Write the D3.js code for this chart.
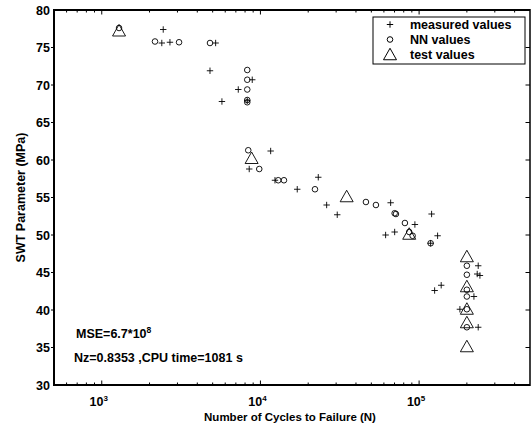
<!DOCTYPE html>
<html>
<head>
<meta charset="utf-8">
<script src="https://cdn.jsdelivr.net/npm/d3@7/dist/d3.min.js"></script>
<style>
  html, body { margin: 0; padding: 0; background: #fff; }
  svg { display: block; font-family: "Liberation Sans", Arial, Helvetica, sans-serif; }
  text { font-weight: bold; fill: #000; }
</style>
</head>
<body>
<svg id="chart" width="532" height="433"></svg>
<script>
// Measured SWT parameter vs. cycles to failure
const measuredN = [2440, 2390, 2690, 5220, 4810, 8880, 7250, 5720, 8260, 11600,
  8500, 12350, 17060, 23150, 26140, 30490, 66170, 119900, 94090, 61520,
  70140, 118200, 130800, 235800, 232400, 241700, 125300, 137800, 221600, 180800, 235800];
const measuredSWT = [77.4, 75.6, 75.7, 75.6, 71.9, 70.7, 69.4, 67.8, 67.9, 61.2,
  58.8, 57.3, 56.1, 57.7, 54.0, 52.7, 54.3, 52.8, 51.4, 50.0,
  50.4, 48.9, 49.9, 45.9, 44.8, 44.6, 42.6, 43.3, 41.8, 40.1, 37.7];

// Neural network predictions
const nnN = [1285, 2165, 3070, 4810, 8260, 8260, 8260, 8260, 8260, 8380,
  9830, 12950, 14070, 22070, 46230, 53450, 70140, 71450, 81400, 86640,
  91020, 118200, 200000, 200000, 200000, 200000, 200000, 200000];
const nnSWT = [77.6, 75.8, 75.7, 75.6, 72.0, 70.7, 69.4, 68.0, 67.7, 61.3,
  58.8, 57.3, 57.3, 56.1, 54.4, 54.0, 52.9, 52.8, 51.6, 50.4,
  49.9, 48.9, 45.9, 44.7, 42.7, 41.8, 40.1, 37.7];

// Test specimens
const testN = [1285, 8800, 34950, 86640, 200000, 200000, 200000, 200000, 200000];
const testSWT = [77.3, 60.3, 55.2, 50.2, 47.2, 43.2, 40.2, 38.4, 35.2];

const xDomain = [500, 500000];
const yDomain = [30, 80];
const xMajorTicks = [1e3, 1e4, 1e5];
const yTicks = [30, 35, 40, 45, 50, 55, 60, 65, 70, 75, 80];
const legendLabels = ["measured values", "NN values", "test values"];

const svg = d3.select("#chart");
const L = 54, R = 530, T = 10, B = 385;

const x = d3.scaleLog().domain(xDomain).range([L, R]);
const y = d3.scaleLinear().domain(yDomain).range([B, T]);

// minor ticks on the log axis
const xMinor = [];
for (let d = 100; d <= 1e5; d *= 10) {
  for (let k = 2; k <= 9; k++) {
    const v = k * d;
    if (v > xDomain[0] && v < xDomain[1] && !xMajorTicks.includes(v)) xMinor.push(v);
  }
}

const frame = svg.append("g");
// tick marks: bottom & top inward, left outward, right inward
const tickG = svg.append("g").attr("stroke", "#000").attr("stroke-width", 1);
xMinor.forEach(v => {
  tickG.append("line").attr("x1", x(v)).attr("x2", x(v)).attr("y1", B).attr("y2", B - 2.5);
  tickG.append("line").attr("x1", x(v)).attr("x2", x(v)).attr("y1", T).attr("y2", T + 2.5);
});
xMajorTicks.forEach(v => {
  tickG.append("line").attr("x1", x(v)).attr("x2", x(v)).attr("y1", B).attr("y2", B - 4.5);
  tickG.append("line").attr("x1", x(v)).attr("x2", x(v)).attr("y1", T).attr("y2", T + 4.5);
});
yTicks.forEach(v => {
  if (v === yDomain[0] || v === yDomain[1]) return;
  tickG.append("line").attr("x1", L).attr("x2", L - 3).attr("y1", y(v)).attr("y2", y(v));
  tickG.append("line").attr("x1", R).attr("x2", R - 4.5).attr("y1", y(v)).attr("y2", y(v));
});

// frame
frame.append("line").attr("x1", L).attr("x2", R).attr("y1", B).attr("y2", B).attr("stroke", "#000").attr("stroke-width", 2);
frame.append("line").attr("x1", L).attr("x2", R).attr("y1", T).attr("y2", T).attr("stroke", "#000").attr("stroke-width", 2);
frame.append("line").attr("x1", L).attr("x2", L).attr("y1", T - 1).attr("y2", B + 1).attr("stroke", "#000").attr("stroke-width", 2);
frame.append("line").attr("x1", R).attr("x2", R).attr("y1", T - 1).attr("y2", B + 1).attr("stroke", "#000").attr("stroke-width", 1.5);

// y tick labels
svg.append("g").selectAll("text").data(yTicks).join("text")
  .attr("x", L - 4).attr("y", d => y(d)).attr("dy", "0.36em")
  .attr("text-anchor", "end").attr("font-size", 12.5).text(d => d);

// x tick labels 10^n
const xl = svg.append("g").selectAll("text").data(xMajorTicks).join("text")
  .attr("x", d => x(d) - 3).attr("y", 406).attr("text-anchor", "middle").attr("font-size", 12.5);
xl.append("tspan").text("10");
xl.append("tspan").attr("dy", -5).attr("font-size", 8).text(d => Math.round(Math.log10(d)));

// axis titles
svg.append("text").attr("x", (L + R) / 2 - 2).attr("y", 421).attr("text-anchor", "middle")
  .attr("font-size", 11.5).text("Number of Cycles to Failure (N)");
svg.append("text").attr("transform", `translate(25,${(T + B) / 2}) rotate(-90)`)
  .attr("text-anchor", "middle").attr("font-size", 12.5).text("SWT Parameter (MPa)");

// markers
const plot = svg.append("g").attr("fill", "none").attr("stroke", "#000").attr("stroke-width", 0.9);
const plusPath = (cx, cy, s) => `M${cx - s},${cy}H${cx + s}M${cx},${cy - s}V${cy + s}`;
const triPath = (cx, cy, w, h) => `M${cx},${cy - h / 2}L${cx + w / 2},${cy + h / 2}L${cx - w / 2},${cy + h / 2}Z`;

plot.selectAll(".meas").data(d3.range(measuredN.length)).join("path").attr("class", "meas")
  .attr("d", i => plusPath(x(measuredN[i]), y(measuredSWT[i]), 3.2));
plot.selectAll(".nn").data(d3.range(nnN.length)).join("circle").attr("class", "nn")
  .attr("cx", i => x(nnN[i])).attr("cy", i => y(nnSWT[i])).attr("r", 2.8);
plot.selectAll(".test").data(d3.range(testN.length)).join("path").attr("class", "test")
  .attr("d", i => triPath(x(testN[i]), y(testSWT[i]), 13, 11.5));

// legend
const lg = svg.append("g");
lg.append("rect").attr("x", 373).attr("y", 17).attr("width", 152).attr("height", 47)
  .attr("fill", "#fff").attr("stroke", "#000").attr("stroke-width", 1);
const rowsY = [24.5, 39.5, 54];
lg.append("path").attr("d", plusPath(390, rowsY[0], 3.2)).attr("stroke", "#000").attr("fill", "none");
lg.append("circle").attr("cx", 390).attr("cy", rowsY[1]).attr("r", 2.8).attr("stroke", "#000").attr("fill", "none");
lg.append("path").attr("d", triPath(390, rowsY[2], 13, 11.5)).attr("stroke", "#000").attr("fill", "none");
lg.selectAll("text.lab").data(legendLabels).join("text").attr("class", "lab")
  .attr("x", 410).attr("y", (d, i) => rowsY[i]).attr("dy", "0.36em").attr("font-size", 12.5).text(d => d);

// fit statistics
const ann = svg.append("g");
const mse = ann.append("text").attr("x", 76).attr("y", 338).attr("font-size", 12.5);
mse.append("tspan").text("MSE=6.7*10");
mse.append("tspan").attr("dy", -5).attr("font-size", 8.5).text("8");
ann.append("text").attr("x", 74).attr("y", 362).attr("font-size", 12.5).text("Nz=0.8353 ,CPU time=1081 s");
</script>
</body>
</html>
